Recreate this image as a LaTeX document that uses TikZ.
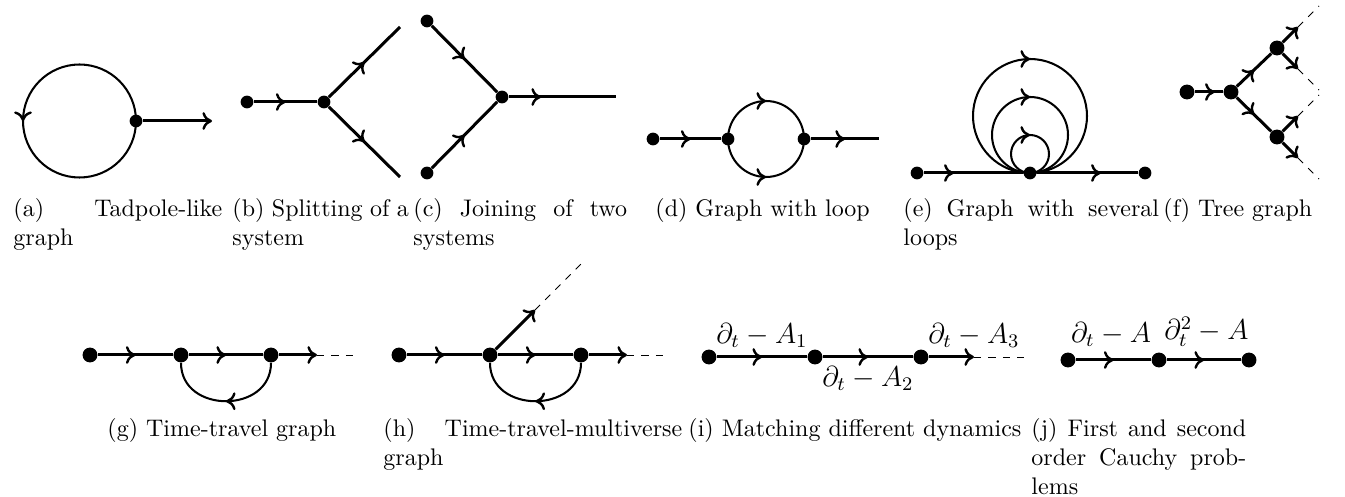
\documentclass[tikz,border=0pt]{standalone}
\usetikzlibrary{arrows.meta, decorations.markings}

\begin{document}
\begin{tikzpicture}[
        x=0.41667pt, y=-0.41667pt,
        vertex/.style={circle, fill=black, inner sep=0pt, minimum size=5.3pt},
        bigvertex/.style={vertex, minimum size=6.2pt},
        edge/.style={draw=black, line width=1.25pt},
        loopedge/.style={draw=black, line width=0.85pt},
        ghost/.style={draw=black, dashed, line width=0.4pt},
        flow/.style={postaction={decorate, decoration={markings, mark=at position #1 with {\arrow{Computer Modern Rightarrow[length=4pt, width=7.4pt, line width=1pt]}}}}},
        flow/.default=0.5,
        tip/.style={-{Computer Modern Rightarrow[length=4pt, width=7.4pt, line width=1pt]}},
        lbl/.style={font=\large, inner xsep=0pt},
        caption/.style={anchor=north west, inner sep=0pt},
        longcaption/.style={caption, align=justify, execute at begin node=\sloppy}
    ]
        \useasboundingbox (0,0) rectangle (1345,497);

        % (a)
        \node[vertex] (a1) at (136,121) {};
        \coordinate (a2) at (212,121);
        \draw[loopedge, flow] (a1.center) arc[start angle=0, end angle=-360, radius=56.5];
        \draw[edge, tip] (a1) -- (a2);
        \node[longcaption, text width=87pt] (capa) at (13,198) {(a) Tadpole-like graph};

        % (b)
        \node[vertex] (b1) at (247,102) {};
        \node[vertex] (b2) at (324,102) {};
        \coordinate (b3) at (400,27);
        \coordinate (b4) at (400,177);
        \draw[edge, flow] (b1) -- (b2);
        \draw[edge, flow] (b2) -- (b3);
        \draw[edge, flow] (b2) -- (b4);
        \node[longcaption, text width=73.5pt] (capb) at (232,198) {(b) Splitting of a system};

        % (c)
        \node[vertex] (c1) at (427,21) {};
        \node[vertex] (c2) at (427,173) {};
        \node[vertex] (c3) at (502,97) {};
        \coordinate (c4) at (616,97);
        \draw[edge, flow] (c1) -- (c3);
        \draw[edge, flow] (c2) -- (c3);
        \draw[edge, flow=0.3] (c3) -- (c4);
        \node[longcaption, text width=89pt] (capc) at (413,198) {(c) Joining of two systems};

        % (d)
        \node[vertex] (d1) at (653,139) {};
        \node[vertex] (d2) at (728,139) {};
        \node[vertex] (d3) at (804,139) {};
        \coordinate (d4) at (879,139);
        \draw[edge, flow] (d1) -- (d2);
        \draw[loopedge, flow] (d2.center) arc[start angle=180, end angle=360, radius=38];
        \draw[loopedge, flow] (d2.center) arc[start angle=180, end angle=0, radius=38];
        \draw[edge, flow] (d3) -- (d4);
        \node[caption] (capd) at (655,198) {(d) Graph with loop};

        % (e)
        \node[vertex] (e1) at (917,173) {};
        \node[vertex] (e2) at (1030,173) {};
        \node[vertex] (e3) at (1145,173) {};
        \draw[edge, flow=0.3] (e1) -- (e2);
        \draw[edge, flow=0.63] (e2) -- (e3);
        \foreach \r in {19,38,57}
            \draw[loopedge, flow] (e2.center) arc[start angle=90, end angle=450, radius=\r];
        \node[longcaption, text width=106.5pt] (cape) at (903,198) {(e) Graph with several loops};

        % (f)
        \node[bigvertex] (f1) at (1187,92) {};
        \node[bigvertex] (f2) at (1231,92) {};
        \node[bigvertex] (f3) at (1277,48) {};
        \node[bigvertex] (f4) at (1277,137) {};
        \coordinate (f5) at (1298,27);
        \coordinate (f6) at (1319,6);
        \coordinate (f7) at (1298,69);
        \coordinate (f8) at (1319,90);
        \coordinate (f9) at (1298,116);
        \coordinate (f10) at (1319,95);
        \coordinate (f11) at (1298,158);
        \coordinate (f12) at (1319,179);
        \draw[edge, flow=0.7] (f1) -- (f2);
        \draw[edge, flow] (f2) -- (f3);
        \draw[edge, flow] (f2) -- (f4);
        \foreach \s/\m/\e in {f3/f5/f6, f3/f7/f8, f4/f9/f10, f4/f11/f12} {
            \draw[edge, tip] (\s) -- (\m);
            \draw[ghost] (\m) -- (\e);
        }
        \node[caption] (capf) at (1163,198) {(f) Tree graph};

        % (g)
        \node[bigvertex] (g1) at (90,355) {};
        \node[bigvertex] (g2) at (181,355) {};
        \node[bigvertex] (g3) at (271,355) {};
        \coordinate (g4) at (317,355);
        \coordinate (g5) at (357,355);
        \draw[edge, flow] (g1) -- (g2);
        \draw[edge, flow] (g2) -- (g3);
        \draw[edge, tip] (g3) -- (g4);
        \draw[ghost] (g4) -- (g5);
        \draw[loopedge, flow] (g3) .. controls +(0,59) and +(0,59) .. (g2);
        \node[caption] (capg) at (107,418) {(g) Time-travel graph};

        % (h)
        \node[bigvertex] (h1) at (399,355) {};
        \node[bigvertex] (h2) at (490,355) {};
        \node[bigvertex] (h3) at (581,355) {};
        \coordinate (h4) at (627,355);
        \coordinate (h5) at (667,355);
        \coordinate (h6) at (535,310);
        \coordinate (h7) at (581,264);
        \draw[edge, flow] (h1) -- (h2);
        \draw[edge, flow] (h2) -- (h3);
        \draw[edge, tip] (h3) -- (h4);
        \draw[ghost] (h4) -- (h5);
        \draw[edge, tip] (h2) -- (h6);
        \draw[ghost] (h6) -- (h7);
        \draw[loopedge, flow] (h3) .. controls +(0,59) and +(0,59) .. (h2);
        \node[longcaption, text width=124.5pt] (caph) at (383,418) {(h) Time-travel-multiverse graph};

        % (i)
        \node[bigvertex] (i1) at (709,357) {};
        \node[bigvertex] (i2) at (815,357) {};
        \node[bigvertex] (i3) at (921,357) {};
        \coordinate (i4) at (974,357);
        \coordinate (i5) at (1027,357);
        \draw[edge, flow] (i1) -- node[lbl, above] {$\partial_t - A_1$} (i2);
        \draw[edge, flow] (i2) -- node[lbl, below] {$\partial_t - A_2$} (i3);
        \draw[edge, tip] (i3) -- (i4) node[lbl, above] {$\partial_t - A_3$};
        \draw[ghost] (i4) -- (i5);
        \node[caption] (capi) at (688,418) {(i) Matching different dynamics};

        % (j)
        \node[bigvertex] (j1) at (1068,360) {};
        \node[bigvertex] (j2) at (1159,360) {};
        \node[bigvertex] (j3) at (1249,360) {};
        \draw[edge, flow] (j1) -- node[lbl, above=1.5pt, xshift=-1pt] {$\partial_t - A$} (j2);
        \draw[edge, flow] (j2) -- node[lbl, above=1.5pt, xshift=1pt] {$\partial_t^2 - A$} (j3);
        \node[longcaption, text width=89.5pt] (capj) at (1031,418) {(j) First and second order Cauchy problems};
    \end{tikzpicture}
\end{document}
